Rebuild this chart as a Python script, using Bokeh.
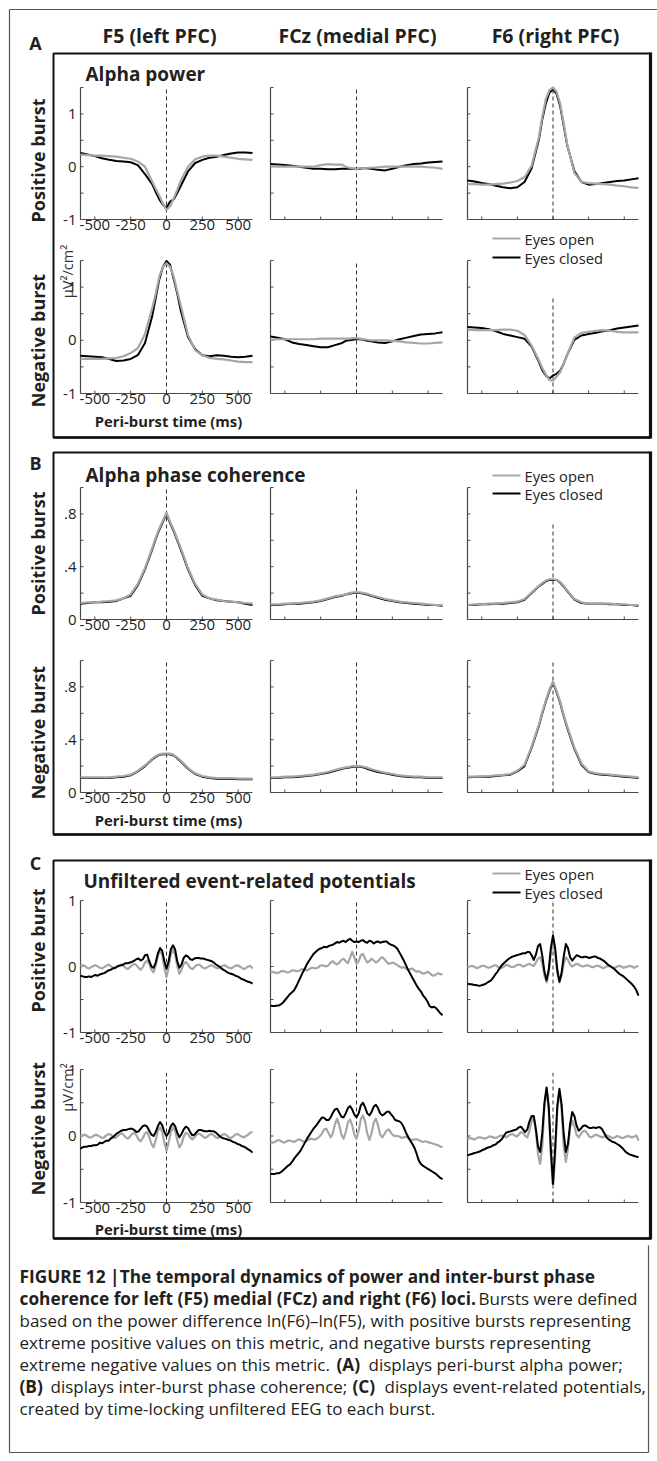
import math
from bokeh.plotting import figure
from bokeh.models import Range1d
from bokeh.embed import file_html
from bokeh.resources import INLINE
from bokeh.core.properties import value

# ---------------- data ----------------
t_smooth = [-600, -550, -500, -450, -400, -350, -300, -250, -200, -150, -100, -75, -50, -25, 0,
            25, 50, 75, 100, 150, 200, 250, 300, 350, 400, 450, 500, 550, 600]
t_erp = list(range(-600, 601, 15))

x_ticks = [-500, -250, 0, 250, 500]
x_tick_labels = ["-500", "-250", "0", "250", "500"]

col_titles = ["F5 (left PFC)", "FCz (medial PFC)", "F6 (right PFC)"]
row_titles = ["Positive burst", "Negative burst"]
series_names = ["Eyes open", "Eyes closed"]

# Panel A: alpha power (µV²/cm²)
A_F5_pos_closed = [0.26, 0.23, 0.20, 0.16, 0.13, 0.11, 0.10, 0.085, 0.03, -0.14, -0.33, -0.48, -0.62, -0.72, -0.78,
                   -0.66, -0.62, -0.50, -0.36, -0.09, 0.07, 0.13, 0.17, 0.19, 0.22, 0.25, 0.27, 0.27, 0.26]
A_F5_pos_open = [0.23, 0.22, 0.21, 0.21, 0.20, 0.19, 0.17, 0.15, 0.10, 0.0, -0.28, -0.42, -0.55, -0.70, -0.82,
                 -0.75, -0.60, -0.44, -0.26, 0.0, 0.14, 0.19, 0.21, 0.21, 0.19, 0.17, 0.15, 0.14, 0.13]
A_FCz_pos_closed = [0.05, 0.04, 0.03, 0.02, 0.0, -0.02, -0.04, -0.04, -0.05, -0.05, -0.04, -0.04, -0.04, -0.04, -0.04,
                    -0.04, -0.03, -0.03, -0.04, -0.06, -0.07, -0.04, 0.0, 0.03, 0.05, 0.06, 0.08, 0.09, 0.10]
A_FCz_pos_open = [0.01, 0.0, 0.0, 0.0, 0.0, 0.0, 0.0, 0.03, 0.05, 0.04, 0.04, 0.0, -0.02, -0.03, -0.04,
                  -0.03, -0.03, -0.02, -0.02, -0.01, 0.0, 0.0, 0.0, 0.0, 0.0, 0.0, -0.01, -0.02, -0.04]
A_F6_pos_closed = [-0.26, -0.28, -0.31, -0.33, -0.36, -0.39, -0.41, -0.39, -0.29, -0.03, 0.50, 0.90, 1.20, 1.40, 1.47,
                   1.38, 1.15, 0.78, 0.40, -0.08, -0.29, -0.34, -0.33, -0.31, -0.29, -0.27, -0.26, -0.24, -0.22]
A_F6_pos_open = [-0.33, -0.33, -0.34, -0.34, -0.33, -0.32, -0.30, -0.27, -0.20, 0.02, 0.55, 0.95, 1.28, 1.45, 1.50,
                 1.42, 1.20, 0.82, 0.42, -0.12, -0.29, -0.31, -0.32, -0.33, -0.34, -0.36, -0.37, -0.39, -0.40]
A_F5_neg_closed = [-0.29, -0.30, -0.31, -0.32, -0.35, -0.39, -0.38, -0.35, -0.28, -0.05, 0.45, 0.80, 1.15, 1.38, 1.49,
                   1.42, 1.15, 0.88, 0.55, 0.06, -0.17, -0.28, -0.30, -0.28, -0.29, -0.31, -0.32, -0.31, -0.29]
A_F5_neg_open = [-0.35, -0.35, -0.35, -0.35, -0.34, -0.33, -0.30, -0.24, -0.15, 0.12, 0.60, 0.88, 1.20, 1.38, 1.45,
                 1.38, 1.20, 0.92, 0.65, 0.10, -0.19, -0.28, -0.33, -0.35, -0.36, -0.38, -0.40, -0.41, -0.41]
A_FCz_neg_closed = [0.07, 0.05, 0.02, -0.04, -0.07, -0.09, -0.11, -0.13, -0.13, -0.09, -0.05, -0.01, 0.0, 0.01, 0.02,
                    0.02, 0.01, -0.01, -0.02, -0.04, -0.05, -0.02, 0.02, 0.05, 0.08, 0.11, 0.12, 0.13, 0.15]
A_FCz_neg_open = [0.01, 0.02, 0.02, 0.02, 0.02, 0.02, 0.02, 0.03, 0.03, 0.03, 0.03, 0.03, 0.03, 0.04, 0.04,
                  0.03, 0.02, 0.01, 0.0, 0.0, 0.0, -0.01, -0.02, -0.04, -0.05, -0.06, -0.06, -0.05, -0.04]
A_F6_neg_closed = [0.25, 0.24, 0.23, 0.21, 0.17, 0.12, 0.09, 0.06, 0.03, -0.12, -0.40, -0.56, -0.66, -0.72, -0.66,
                   -0.63, -0.57, -0.44, -0.27, 0.01, 0.09, 0.12, 0.14, 0.17, 0.19, 0.22, 0.24, 0.26, 0.28]
A_F6_neg_open = [0.20, 0.19, 0.19, 0.19, 0.19, 0.20, 0.20, 0.18, 0.10, -0.10, -0.37, -0.52, -0.64, -0.75, -0.76,
                 -0.68, -0.60, -0.44, -0.27, 0.05, 0.14, 0.16, 0.18, 0.19, 0.18, 0.16, 0.15, 0.15, 0.15]

# Panel B: alpha phase coherence
B_F5_pos_closed = [0.12, 0.125, 0.13, 0.13, 0.135, 0.14, 0.16, 0.18, 0.26, 0.38, 0.53, 0.61, 0.68, 0.74, 0.80,
                   0.73, 0.67, 0.60, 0.53, 0.38, 0.26, 0.18, 0.16, 0.145, 0.14, 0.135, 0.13, 0.12, 0.11]
B_F5_pos_open = [0.125, 0.13, 0.13, 0.135, 0.14, 0.145, 0.16, 0.19, 0.27, 0.39, 0.54, 0.62, 0.69, 0.75, 0.81,
                 0.74, 0.68, 0.61, 0.54, 0.39, 0.27, 0.19, 0.16, 0.15, 0.14, 0.135, 0.13, 0.125, 0.12]
B_FCz_pos_closed = [0.11, 0.11, 0.115, 0.12, 0.12, 0.125, 0.13, 0.14, 0.155, 0.17, 0.18, 0.19, 0.195, 0.2, 0.2,
                    0.2, 0.195, 0.19, 0.18, 0.165, 0.15, 0.14, 0.13, 0.125, 0.12, 0.115, 0.11, 0.11, 0.105]
B_FCz_pos_open = [0.115, 0.115, 0.12, 0.12, 0.125, 0.13, 0.135, 0.145, 0.16, 0.175, 0.185, 0.19, 0.2, 0.205, 0.205,
                  0.205, 0.2, 0.195, 0.185, 0.17, 0.155, 0.145, 0.135, 0.13, 0.125, 0.12, 0.115, 0.11, 0.11]
B_F6_pos_closed = [0.11, 0.11, 0.115, 0.115, 0.12, 0.12, 0.125, 0.13, 0.15, 0.2, 0.25, 0.27, 0.29, 0.30, 0.30,
                   0.30, 0.28, 0.25, 0.215, 0.15, 0.125, 0.12, 0.12, 0.12, 0.115, 0.115, 0.11, 0.11, 0.105]
B_F6_pos_open = [0.11, 0.115, 0.115, 0.12, 0.12, 0.125, 0.13, 0.135, 0.155, 0.205, 0.255, 0.275, 0.295, 0.305, 0.305,
                 0.30, 0.285, 0.255, 0.22, 0.155, 0.13, 0.12, 0.12, 0.12, 0.12, 0.115, 0.115, 0.11, 0.11]
B_F5_neg_closed = [0.11, 0.11, 0.11, 0.11, 0.11, 0.115, 0.12, 0.13, 0.16, 0.2, 0.25, 0.27, 0.285, 0.29, 0.29,
                   0.29, 0.28, 0.26, 0.235, 0.18, 0.14, 0.12, 0.11, 0.105, 0.105, 0.105, 0.10, 0.10, 0.10]
B_F5_neg_open = [0.115, 0.115, 0.115, 0.115, 0.115, 0.12, 0.125, 0.135, 0.165, 0.205, 0.255, 0.275, 0.29, 0.295, 0.295,
                 0.295, 0.285, 0.265, 0.24, 0.185, 0.145, 0.125, 0.115, 0.11, 0.11, 0.11, 0.105, 0.105, 0.105]
B_FCz_neg_closed = [0.11, 0.11, 0.115, 0.115, 0.12, 0.125, 0.13, 0.14, 0.15, 0.165, 0.18, 0.185, 0.19, 0.195, 0.197,
                    0.195, 0.19, 0.18, 0.17, 0.155, 0.145, 0.135, 0.125, 0.12, 0.115, 0.115, 0.11, 0.11, 0.11]
B_FCz_neg_open = [0.115, 0.115, 0.12, 0.12, 0.125, 0.13, 0.135, 0.145, 0.155, 0.17, 0.185, 0.19, 0.195, 0.2, 0.202,
                  0.2, 0.195, 0.188, 0.178, 0.163, 0.15, 0.14, 0.13, 0.125, 0.12, 0.12, 0.115, 0.115, 0.115]
B_F6_neg_closed = [0.115, 0.117, 0.12, 0.12, 0.125, 0.13, 0.135, 0.16, 0.2, 0.34, 0.50, 0.60, 0.69, 0.77, 0.835,
                   0.76, 0.68, 0.58, 0.49, 0.33, 0.21, 0.155, 0.14, 0.135, 0.13, 0.125, 0.12, 0.115, 0.11]
B_F6_neg_open = [0.12, 0.12, 0.122, 0.125, 0.13, 0.133, 0.14, 0.165, 0.21, 0.35, 0.51, 0.61, 0.70, 0.78, 0.84,
                 0.77, 0.69, 0.59, 0.50, 0.34, 0.22, 0.16, 0.145, 0.14, 0.135, 0.13, 0.125, 0.12, 0.115]

# Panel C: unfiltered ERPs (µV/cm²), sampled every 15 ms
C_F5_pos_closed = [-0.14, -0.15, -0.16, -0.16, -0.15, -0.16, -0.14, -0.13, -0.14, -0.12,
                   -0.11, -0.10, -0.08, -0.06, -0.05, -0.03, -0.02, 0.00, 0.01, 0.02,
                   0.03, 0.05, 0.05, 0.06, 0.07, 0.09, 0.11, 0.12, 0.09, 0.11,
                   0.17, 0.18, 0.08, 0.00, -0.02, 0.06, 0.20, 0.28, 0.24, 0.08,
                   -0.035,
                   0.08, 0.26, 0.32, 0.26, 0.08, -0.02, 0.03, 0.13, 0.17, 0.15,
                   0.11, 0.10, 0.12, 0.13, 0.13, 0.12, 0.12, 0.11, 0.10, 0.09,
                   0.08, 0.06, 0.03, 0.01, -0.01, -0.04, -0.06, -0.08, -0.10, -0.11,
                   -0.12, -0.14, -0.15, -0.17, -0.19, -0.20, -0.22, -0.23, -0.24, -0.26]
C_F5_pos_open = [0.00, 0.02, 0.01, -0.02, -0.03, -0.01, 0.01, 0.02, 0.00, -0.02,
                 -0.03, -0.01, 0.01, 0.03, 0.01, -0.02, -0.03, -0.01, 0.02, 0.03,
                 0.01, -0.02, -0.04, -0.01, 0.02, 0.04, 0.02, -0.02, -0.05, -0.01,
                 0.06, 0.09, 0.04, -0.05, -0.09, 0.02, 0.16, 0.24, 0.18, -0.02,
                 -0.16,
                 -0.02, 0.19, 0.26, 0.18, 0.01, -0.11, -0.05, 0.04, 0.07, 0.03,
                 -0.02, -0.04, -0.01, 0.02, 0.03, 0.01, -0.02, -0.03, -0.01, 0.01,
                 0.02, 0.00, -0.02, -0.03, -0.01, 0.01, 0.02, 0.00, -0.02, -0.03,
                 -0.01, 0.01, 0.02, 0.00, -0.02, -0.04, -0.02, 0.00, 0.01, -0.03]
C_FCz_pos_closed = [-0.59, -0.60, -0.60, -0.59, -0.59, -0.57, -0.54, -0.50, -0.46, -0.42,
                    -0.39, -0.36, -0.30, -0.23, -0.16, -0.09, -0.03, 0.04, 0.09, 0.14,
                    0.19, 0.22, 0.25, 0.27, 0.28, 0.30, 0.29, 0.31, 0.32, 0.33,
                    0.35, 0.37, 0.36, 0.38, 0.39, 0.37, 0.40, 0.42, 0.39, 0.37,
                    0.38,
                    0.37, 0.39, 0.40, 0.37, 0.36, 0.39, 0.38, 0.35, 0.37, 0.38,
                    0.36, 0.37, 0.38, 0.38, 0.35, 0.33, 0.32, 0.30, 0.27, 0.21,
                    0.15, 0.09, 0.02, -0.05, -0.11, -0.17, -0.23, -0.29, -0.34, -0.38,
                    -0.44, -0.48, -0.53, -0.60, -0.62, -0.61, -0.63, -0.67, -0.71, -0.74]
C_FCz_pos_open = [-0.09, -0.08, -0.09, -0.10, -0.09, -0.07, -0.07, -0.08, -0.09, -0.08,
                  -0.06, -0.06, -0.07, -0.07, -0.05, -0.04, -0.05, -0.06, -0.04, -0.02,
                  -0.02, -0.03, -0.02, 0.01, 0.02, 0.01, 0.00, 0.02, 0.06, 0.08,
                  0.05, 0.03, 0.06, 0.10, 0.12, 0.08, 0.05, 0.13, 0.22, 0.14,
                  0.04,
                  0.08, 0.17, 0.19, 0.12, 0.06, 0.08, 0.12, 0.09, 0.06, 0.08,
                  0.12, 0.14, 0.11, 0.07, 0.04, 0.05, 0.06, 0.04, 0.02, 0.00,
                  -0.02, -0.01, -0.03, -0.05, -0.04, -0.03, -0.06, -0.08, -0.07, -0.09,
                  -0.11, -0.10, -0.08, -0.10, -0.13, -0.14, -0.12, -0.10, -0.12, -0.11]
C_F6_pos_closed = [-0.26, -0.27, -0.27, -0.28, -0.28, -0.29, -0.29, -0.28, -0.27, -0.25,
                   -0.23, -0.21, -0.17, -0.12, -0.08, -0.03, 0.02, 0.05, 0.08, 0.11,
                   0.13, 0.15, 0.16, 0.17, 0.18, 0.19, 0.20, 0.20, 0.22, 0.22,
                   0.17, 0.10, 0.18, 0.31, 0.34, 0.16, -0.08, -0.21, -0.05, 0.28,
                   0.47,
                   0.28, -0.05, -0.23, -0.10, 0.15, 0.34, 0.28, 0.14, 0.09, 0.13,
                   0.17, 0.16, 0.14, 0.14, 0.15, 0.14, 0.13, 0.14, 0.15, 0.15,
                   0.13, 0.12, 0.10, 0.08, 0.05, 0.02, 0.00, -0.02, -0.05, -0.08,
                   -0.11, -0.13, -0.15, -0.18, -0.21, -0.24, -0.27, -0.31, -0.36, -0.44]
C_F6_pos_open = [-0.01, 0.00, 0.01, 0.00, -0.02, -0.02, 0.00, 0.01, 0.01, -0.01,
                 -0.02, -0.01, 0.01, 0.02, 0.00, -0.02, -0.02, 0.00, 0.02, 0.02,
                 0.00, -0.01, 0.00, 0.02, 0.03, 0.02, 0.00, 0.01, 0.03, 0.04,
                 0.02, 0.01, 0.06, 0.12, 0.14, 0.04, -0.14, -0.24, -0.10, 0.20,
                 0.39,
                 0.20, -0.10, -0.24, -0.14, 0.04, 0.14, 0.10, 0.03, 0.00, 0.02,
                 0.04, 0.03, 0.01, 0.00, 0.01, 0.02, 0.01, -0.01, -0.01, 0.01,
                 0.01, 0.00, -0.02, -0.02, 0.00, 0.01, 0.00, -0.02, -0.02, 0.00,
                 0.01, 0.00, -0.02, -0.01, 0.00, 0.01, 0.00, -0.02, 0.00, 0.01]
C_F5_neg_closed = [-0.19, -0.17, -0.16, -0.16, -0.15, -0.15, -0.14, -0.14, -0.13, -0.10,
                   -0.11, -0.09, -0.07, -0.07, -0.04, -0.02, 0.01, 0.04, 0.06, 0.08,
                   0.09, 0.09, 0.10, 0.11, 0.11, 0.09, 0.06, 0.07, 0.11, 0.15,
                   0.16, 0.14, 0.08, 0.02, 0.00, 0.06, 0.15, 0.21, 0.16, 0.06,
                   0.00,
                   0.05, 0.15, 0.19, 0.15, 0.05, -0.02, 0.03, 0.10, 0.14, 0.12,
                   0.06, 0.01, 0.02, 0.06, 0.09, 0.09, 0.08, 0.07, 0.07, 0.08,
                   0.07, 0.07, 0.05, 0.02, -0.01, -0.03, -0.04, -0.05, -0.06, -0.07,
                   -0.09, -0.10, -0.12, -0.13, -0.15, -0.16, -0.18, -0.20, -0.22, -0.25]
C_F5_neg_open = [-0.01, 0.01, 0.02, 0.00, -0.02, -0.02, 0.00, 0.02, 0.01, -0.01,
                 -0.03, -0.02, 0.01, 0.03, 0.02, -0.01, -0.03, -0.01, 0.02, 0.04,
                 0.02, -0.02, -0.04, -0.01, 0.03, 0.05, 0.01, -0.05, -0.08, -0.03,
                 0.04, 0.06, -0.02, -0.12, -0.17, -0.06, 0.08, 0.13, 0.06, -0.10,
                 -0.22,
                 -0.10, 0.06, 0.13, 0.08, -0.06, -0.17, -0.12, -0.01, 0.05, 0.03,
                 -0.02, -0.05, -0.02, 0.02, 0.04, 0.02, -0.01, -0.03, -0.01, 0.02,
                 0.03, 0.01, -0.02, -0.03, -0.01, 0.02, 0.03, 0.01, -0.02, -0.03,
                 -0.01, 0.02, 0.03, 0.01, -0.01, -0.02, 0.00, 0.02, 0.05, 0.06]
C_FCz_neg_closed = [-0.57, -0.57, -0.57, -0.56, -0.56, -0.54, -0.51, -0.48, -0.45, -0.43,
                    -0.39, -0.34, -0.30, -0.26, -0.22, -0.16, -0.10, -0.04, 0.01, 0.06,
                    0.11, 0.15, 0.19, 0.24, 0.28, 0.27, 0.24, 0.24, 0.28, 0.35,
                    0.40, 0.41, 0.35, 0.29, 0.28, 0.34, 0.42, 0.45, 0.40, 0.32,
                    0.28,
                    0.34, 0.46, 0.50, 0.43, 0.34, 0.31, 0.36, 0.44, 0.47, 0.42,
                    0.34, 0.31, 0.33, 0.36, 0.37, 0.33, 0.29, 0.24, 0.23, 0.22,
                    0.19, 0.13, 0.05, -0.01, -0.07, -0.12, -0.18, -0.27, -0.37, -0.42,
                    -0.45, -0.47, -0.49, -0.51, -0.53, -0.55, -0.57, -0.60, -0.63, -0.65]
C_FCz_neg_open = [-0.09, -0.10, -0.09, -0.07, -0.06, -0.08, -0.10, -0.09, -0.07, -0.07,
                  -0.08, -0.09, -0.07, -0.05, -0.06, -0.08, -0.09, -0.07, -0.05, -0.04,
                  -0.05, -0.05, -0.03, 0.00, 0.04, 0.10, 0.11, 0.04, -0.02, 0.04,
                  0.18, 0.26, 0.16, 0.02, -0.04, 0.06, 0.20, 0.25, 0.16, 0.02,
                  -0.04,
                  0.08, 0.25, 0.31, 0.22, 0.04, -0.06, 0.04, 0.20, 0.26, 0.16,
                  0.02, -0.02, 0.03, 0.08, 0.10, 0.05, 0.01, 0.00, 0.00, -0.01,
                  -0.03, -0.02, -0.01, -0.03, -0.05, -0.06, -0.05, -0.05, -0.06, -0.08,
                  -0.09, -0.08, -0.09, -0.10, -0.11, -0.12, -0.13, -0.14, -0.16, -0.17]
C_F6_neg_closed = [-0.29, -0.28, -0.27, -0.26, -0.25, -0.24, -0.23, -0.21, -0.20, -0.18,
                   -0.17, -0.16, -0.14, -0.13, -0.10, -0.08, -0.05, 0.00, 0.05, 0.06,
                   0.07, 0.08, 0.09, 0.10, 0.13, 0.14, 0.10, 0.06, 0.10, 0.22,
                   0.30, 0.30, 0.10, -0.16, -0.24, 0.05, 0.50, 0.73, 0.45, -0.20,
                   -0.72,
                   -0.20, 0.45, 0.71, 0.48, 0.04, -0.24, -0.12, 0.18, 0.36, 0.30,
                   0.16, 0.08, 0.11, 0.15, 0.16, 0.14, 0.12, 0.12, 0.13, 0.12,
                   0.13, 0.13, 0.10, 0.04, -0.02, -0.05, -0.07, -0.09, -0.10, -0.12,
                   -0.14, -0.17, -0.20, -0.24, -0.26, -0.28, -0.29, -0.30, -0.31, -0.32]
C_F6_neg_open = [-0.04, -0.03, -0.04, -0.05, -0.04, -0.02, -0.02, -0.03, -0.04, -0.03,
                 -0.01, -0.01, -0.02, -0.03, -0.02, 0.00, 0.01, 0.00, -0.02, 0.00,
                 0.02, 0.03, 0.01, -0.01, 0.02, 0.06, 0.05, 0.00, -0.02, 0.08,
                 0.22, 0.28, 0.08, -0.28, -0.42, -0.15, 0.45, 0.71, 0.40, -0.30,
                 -0.75,
                 -0.30, 0.40, 0.68, 0.42, -0.15, -0.39, -0.20, 0.12, 0.23, 0.15,
                 0.02, -0.02, 0.03, 0.07, 0.08, 0.04, -0.01, -0.02, 0.00, 0.02,
                 0.01, -0.01, -0.02, -0.01, 0.01, 0.00, -0.02, -0.03, -0.02, 0.00,
                 -0.01, -0.03, -0.03, -0.01, 0.00, -0.01, -0.02, -0.01, 0.01, -0.07]

A_yticks = [-1, -0.5, 0, 0.5, 1, 1.5]
A_ylabel_vals = [-1, 0, 1]
A_ylabel_text = ["-1", "0", "1"]
B_yticks = [0, 0.2, 0.4, 0.6, 0.8, 1.0]
B_ylabel_vals = [0, 0.4, 0.8]
B_ylabel_text = ["0", ".4", ".8"]
C_yticks = [-1, -0.5, 0, 0.5, 1]
C_ylabel_vals = [-1, 0, 1]
C_ylabel_text = ["-1", "0", "1"]

caption_lines = [
    [("FIGURE 12 |The temporal dynamics of power and inter-burst phase", True, 19)],
    [("coherence for left (F5) medial (FCz) and right (F6) loci.", True, 19),
     ("Bursts were defined", False, 478)],
    [("based on the power difference ln(F6)\u2013ln(F5), with positive bursts representing", False, 19)],
    [("extreme positive values on this metric, and negative bursts representing", False, 19)],
    [("extreme negative values on this metric.", False, 19), ("(A)", True, 336),
     ("displays peri-burst alpha power;", False, 368)],
    [("(B)", True, 19), ("displays inter-burst phase coherence;", False, 50), ("(C)", True, 352),
     ("displays event-related potentials,", False, 384)],
    [("created by time-locking unfiltered EEG to each burst.", False, 19)],
]

# ---------------- layout (page pixel positions) ----------------
W, H = 657, 1461
FONT = "Open Sans"
INK = "#231f20"
AXC = "#4a4a4a"
GRAY = "#a6a6a6"

p = figure(width=W, height=H, x_range=Range1d(0, W), y_range=Range1d(H, 0),
           output_backend="svg", toolbar_location=None, min_border=0,
           x_axis_location=None, y_axis_location=None)
p.grid.visible = False
p.outline_line_color = None


def T(x, y, s, size, bold=False, align="left", baseline="middle", angle=0.0, color=INK):
    p.text(x=[x], y=[y], text=[s], text_font=value(FONT), text_font_size=f"{size}px",
           text_font_style="bold" if bold else "normal", text_align=align,
           text_baseline=baseline, angle=angle, text_color=color)


def L(x0, y0, x1, y1, width=1.0, color="black"):
    p.segment(x0=[x0], y0=[y0], x1=[x1], y1=[y1], line_width=width, line_color=color)


cols = [(80, 252), (270, 442), (467, 638)]
col_title_x = [159, 357, 555]

panels = [
    dict(label="A", label_y=42, box=(53, 437), title="Alpha power", title_x=85, title_y=73,
         rows=[(87, 219), (260, 393)], yr=(-1, 1.5), yticks=A_yticks,
         ylv=A_ylabel_vals, ylt=A_ylabel_text, t=t_smooth,
         data=[[(A_F5_pos_open, A_F5_pos_closed), (A_FCz_pos_open, A_FCz_pos_closed), (A_F6_pos_open, A_F6_pos_closed)],
               [(A_F5_neg_open, A_F5_neg_closed), (A_FCz_neg_open, A_FCz_neg_closed), (A_F6_neg_open, A_F6_neg_closed)]],
         dash=[[1.5, 1.5, 1.5], [1.5, 1.45, 0.79]], rowlab=[160, 340],
         unit="\u00b5V\u00b2/cm\u00b2", unit_y=271, xlab_y=420, legend_y=(238, 257), black_top=False),
    dict(label="B", label_y=462, box=(452, 834), title="Alpha phase coherence", title_x=85, title_y=474,
         rows=[(487, 619), (660, 792)], yr=(0, 1.0), yticks=B_yticks,
         ylv=B_ylabel_vals, ylt=B_ylabel_text, t=t_smooth,
         data=[[(B_F5_pos_open, B_F5_pos_closed), (B_FCz_pos_open, B_FCz_pos_closed), (B_F6_pos_open, B_F6_pos_closed)],
               [(B_F5_neg_open, B_F5_neg_closed), (B_FCz_neg_open, B_FCz_neg_closed), (B_F6_neg_open, B_F6_neg_closed)]],
         dash=[[1.0, 1.0, 0.73], [1.0, 1.0, 1.0]], rowlab=[553, 732],
         unit=None, unit_y=0, xlab_y=819, legend_y=(475, 493), black_top=False),
    dict(label="C", label_y=862, box=(860, 1238), title="Unfiltered event-related potentials", title_x=83, title_y=880,
         rows=[(900, 1032), (1069, 1202)], yr=(-1, 1.0), yticks=C_yticks,
         ylv=C_ylabel_vals, ylt=C_ylabel_text, t=t_erp,
         data=[[(C_F5_pos_open, C_F5_pos_closed), (C_FCz_pos_open, C_FCz_pos_closed), (C_F6_pos_open, C_F6_pos_closed)],
               [(C_F5_neg_open, C_F5_neg_closed), (C_FCz_neg_open, C_FCz_neg_closed), (C_F6_neg_open, C_F6_neg_closed)]],
         dash=[[0.97, 1.0, 1.0], [0.95, 0.95, 0.95]], rowlab=[950, 1128],
         unit="\u00b5V/cm\u00b2", unit_y=1087, xlab_y=1228, legend_y=(873, 892), black_top=True),
]

# outer frame
L(9, 9, 657, 9, 1.2, "#555555")
L(9, 9, 9, 1452, 1.2, "#555555")
L(9, 1452, 648, 1452, 1.2, "#555555")
L(648, 1245, 648, 1452, 1.2, "#555555")

# column headers
for cx, name in zip(col_title_x, col_titles):
    T(cx, 35, name, 19.5, bold=True, align="center")

for pan in panels:
    top, bot = pan["box"]
    p.quad(left=[53], right=[650], top=[top], bottom=[bot],
           fill_color=None, line_color="#111111", line_width=2)
    L(650, top - 1, 650, bot + 1, 3.2, "#111111")
    L(53, bot, 650, bot, 2.6, "#111111")
    T(35, pan["label_y"], pan["label"], 18, bold=True, align="center")
    T(pan["title_x"], pan["title_y"], pan["title"], 19, bold=True)
    for ry, rname in zip(pan["rowlab"], row_titles):
        T(37, ry, rname, 18, bold=True, align="center", angle=math.pi / 2)
    if pan["unit"]:
        T(67, pan["unit_y"], pan["unit"], 14.5, align="center", angle=math.pi / 2, color="#333333")
    T(168, pan["xlab_y"], "Peri-burst time (ms)", 14.8, bold=True, align="center")
    # legend
    for yy, nm, cc in zip(pan["legend_y"], series_names, [GRAY, "black"]):
        L(492, yy, 520, yy, 2, cc)
        T(524, yy, nm, 14.7, color="#222222")

    ymin, ymax = pan["yr"]
    for ri, (rt, rb) in enumerate(pan["rows"]):
        for ci, (cl, cr) in enumerate(cols):
            sub = p.subplot(x_source=Range1d(-600, 600), y_source=Range1d(ymin, ymax),
                            x_target=Range1d(cl, cr), y_target=Range1d(rb, rt))
            # axes
            sub.segment(x0=[-600, -600], y0=[ymin, ymin], x1=[-600, 600], y1=[ymax, ymin],
                        line_color=AXC, line_width=1.2)
            sub.ray(x=x_ticks, y=[ymin] * len(x_ticks), length=3, length_units="screen",
                    angle=math.pi / 2, line_color=AXC, line_width=1)
            sub.ray(x=[-600] * len(pan["yticks"]), y=pan["yticks"], length=3, length_units="screen",
                    angle=0, line_color=AXC, line_width=1)
            if ci == 0:
                sub.text(x=x_ticks, y=[ymin] * len(x_ticks), text=x_tick_labels, y_offset=0,
                         text_align="center", text_baseline="top", text_font=value(FONT),
                         text_font_size="15px", text_color=INK)
                sub.text(x=[-600] * len(pan["ylv"]), y=pan["ylv"], text=pan["ylt"], x_offset=-4,
                         text_align="right", text_baseline="middle", text_font=value(FONT),
                         text_font_size="15px", text_color=INK)
            # dashed zero line
            sub.segment(x0=[0], y0=[ymin], x1=[0], y1=[pan["dash"][ri][ci]], line_color="#333333",
                        line_width=1, line_dash="4 3")
            y_open, y_closed = pan["data"][ri][ci]
            if pan["black_top"]:
                sub.line(x=pan["t"], y=y_open, line_color=GRAY, line_width=2.2, line_join="round")
                sub.line(x=pan["t"], y=y_closed, line_color="black", line_width=2, line_join="round")
            else:
                sub.line(x=pan["t"], y=y_closed, line_color="black", line_width=2, line_join="round")
                sub.line(x=pan["t"], y=y_open, line_color=GRAY, line_width=2.2, line_join="round")

# caption
for i, segs in enumerate(caption_lines):
    yy = 1276 + 22 * i
    for s, b, x in segs:
        T(x, yy, s, 17.3 if b else 17.0, bold=b)

open("out.html", "w").write(file_html(p, INLINE))
